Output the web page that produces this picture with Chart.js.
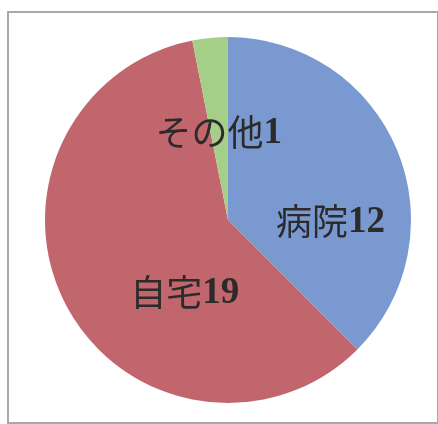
<!DOCTYPE html>
<html>
<head>
<meta charset="utf-8">
<script src="https://cdn.jsdelivr.net/npm/chart.js@4/dist/chart.umd.min.js"></script>
<style>
  html, body { margin: 0; padding: 0; background: #fff; }
  #wrap { position: relative; width: 438px; height: 424px; }
  #frame {
    position: absolute; left: 7px; top: 11px; width: 428px; height: 409px;
    border: 2px solid #a8a8a8; box-sizing: content-box;
  }
  canvas { position: absolute; left: 0; top: 0; }
</style>
</head>
<body>
<div id="wrap">
  <div id="frame"></div>
  <canvas id="pie" width="438" height="424"></canvas>
</div>
<script>
// place of death counts
const places = ['病院', '自宅', 'その他'];
const counts = [12, 19, 1];
const colors = ['#7b99d1', '#c2666e', '#a5cf88'];

// where each label sits: angle (deg, clockwise from top) and fraction of radius
const labelAngle = [91, 211, 354];
const labelDist = [0.56, 0.46, 0.48];

const sliceLabels = {
  id: 'sliceLabels',
  afterDatasetsDraw(chart) {
    const ctx = chart.ctx;
    const arc = chart.getDatasetMeta(0).data[0];
    const cx = arc.x, cy = arc.y, r = arc.outerRadius;
    const nameFont = '36px "Noto Sans CJK JP", sans-serif';
    const numFont = 'bold 37px "Liberation Serif", serif';
    ctx.save();
    ctx.fillStyle = '#2b2b2b';
    ctx.textAlign = 'left';
    ctx.textBaseline = 'middle';
    places.forEach((p, i) => {
      const a = labelAngle[i] * Math.PI / 180;
      const d = r * labelDist[i];
      const x = cx + d * Math.sin(a), y = cy - d * Math.cos(a);
      const num = String(counts[i]);
      ctx.font = nameFont;
      const w1 = ctx.measureText(p).width;
      ctx.font = numFont;
      const w2 = ctx.measureText(num).width;
      const x0 = x - (w1 + w2) / 2;
      ctx.font = nameFont;
      ctx.fillText(p, x0, y);
      ctx.font = numFont;
      ctx.fillText(num, x0 + w1, y + 1);
    });
    ctx.restore();
  }
};

new Chart(document.getElementById('pie'), {
  type: 'pie',
  data: {
    labels: places,
    datasets: [{
      data: counts,
      backgroundColor: colors,
      borderWidth: 0
    }]
  },
  options: {
    responsive: false,
    animation: false,
    layout: { padding: { left: 45, right: 27, top: 37, bottom: 21 } },
    plugins: {
      legend: { display: false },
      tooltip: { enabled: false }
    }
  },
  plugins: [sliceLabels]
});
</script>
</body>
</html>
